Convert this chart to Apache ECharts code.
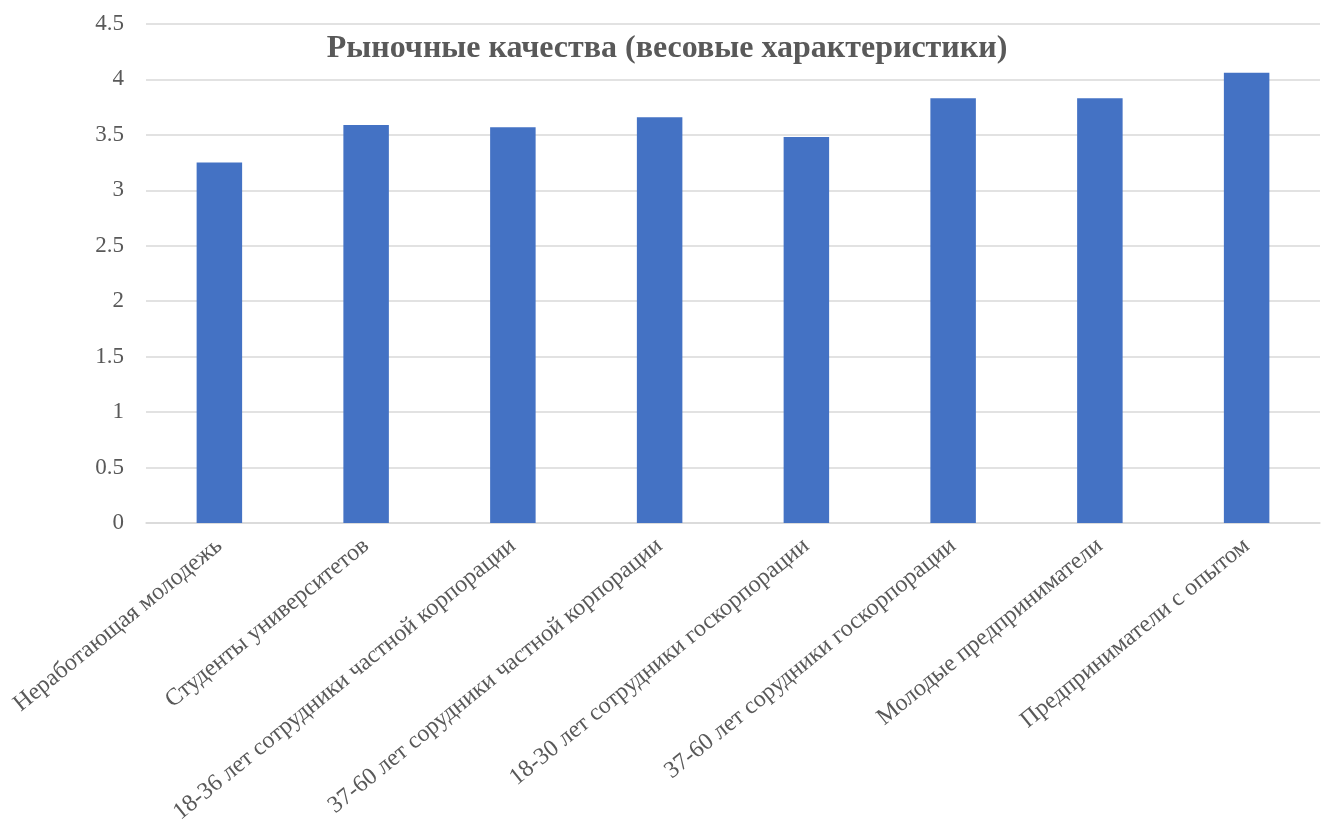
<!DOCTYPE html>
<html><head><meta charset="utf-8">
<script src="https://cdn.jsdelivr.net/npm/echarts@6/dist/echarts.min.js"></script>
<style>html,body{margin:0;padding:0;background:#fff}#c{width:1323px;height:823px}</style>
</head><body><div id="c"></div>
<script>
const titleText = 'Рыночные качества (весовые характеристики)';
const categories = ['Неработающая молодежь','Студенты университетов','18-36 лет сотрудники частной корпорации','37-60 лет сорудники частной корпорации','18-30 лет сотрудники госкорпорации','37-60 лет сорудники госкорпорации','Молодые предприниматели','Предприниматели с опытом'];
const values = [3.25, 3.59, 3.57, 3.66, 3.48, 3.83, 3.83, 4.06];
const yTicks = {min: 0, max: 4.5, interval: 0.5};

const chart = echarts.init(document.getElementById('c'), null, {renderer: 'canvas'});
chart.setOption({
  backgroundColor: '#fff',
  animation: false,
  title: {
    text: titleText, left: 662, top: 28, textAlign: 'center',
    textStyle: {fontFamily: 'Liberation Serif', fontWeight: 'bold', fontSize: 32, color: '#595959'}
  },
  grid: {left: 146, right: 3, top: 24, bottom: 300, containLabel: false, outerBoundsMode: 'none'},
  xAxis: {
    type: 'category', data: categories,
    axisLine: {show: true, lineStyle: {color: '#d9d9d9', width: 1.5}},
    axisTick: {show: false},
    axisLabel: {rotate: 39, interval: 0, margin: 20, fontFamily: 'Liberation Serif', fontSize: 24, color: '#595959'}
  },
  yAxis: {
    type: 'value', min: yTicks.min, max: yTicks.max, interval: yTicks.interval,
    axisLine: {show: false}, axisTick: {show: false},
    splitLine: {lineStyle: {color: '#d9d9d9', width: 1.5}},
    axisLabel: {margin: 22, fontFamily: 'Liberation Serif', fontSize: 23, color: '#595959',
      formatter: v => String(v)}
  },
  series: [{
    type: 'bar', data: values, barWidth: '31%',
    itemStyle: {color: '#4472c4'}
  }]
});
</script></body></html>
